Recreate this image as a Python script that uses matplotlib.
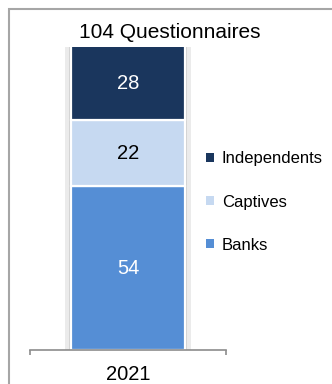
import matplotlib
matplotlib.use('Agg')
import matplotlib.pyplot as plt
from matplotlib.patches import Patch, Rectangle

plt.rcParams['font.family'] = ['Liberation Sans', 'DejaVu Sans']

# --- Data ---
years = ['2021']
segments = ['Banks', 'Captives', 'Independents']
values = [54, 22, 28]
colors = ['#558ed5', '#c6d9f1', '#1a365d']
label_colors = ['white', 'black', 'white']
title = '104 Questionnaires'

fig = plt.figure(figsize=(3.32, 3.84), dpi=100)
W, H = 332, 384

# outer frame
fig.patches.append(Rectangle((9 / W, -0.1), 1.2, (H - 9) / H + 0.1, transform=fig.transFigure,
                             fill=False, edgecolor='#a6a6a6', linewidth=1.5))

ax = fig.add_axes([30 / W, 34 / H, 196 / W, 303 / H])
ymax = 100
ax.set_ylim(0, ymax)
ax.set_xlim(-0.5, 0.5)

# grey backdrop behind the column
ax.bar(0, ymax, width=0.645, bottom=0, color='#ebebeb', zorder=1)
ax.bar(0, ymax, width=0.6, bottom=0, color='#cfcfcf', zorder=1.5)

bottom = 0
for seg, v, c, lc in zip(segments, values, colors, label_colors):
    ax.bar(0, v, width=0.585, bottom=bottom, color=c, edgecolor='white', linewidth=1.6, zorder=2)
    top = min(bottom + v, ymax)
    ax.text(0, (bottom + top) / 2, str(v), ha='center', va='center', color=lc, fontsize=14.5, zorder=3)
    bottom += v

for s in ['top', 'left', 'right']:
    ax.spines[s].set_visible(False)
ax.spines['bottom'].set_color('#8c8c8c')
ax.spines['bottom'].set_linewidth(1.2)
ax.set_yticks([])
ax.set_xticks([0])
ax.set_xticklabels(years, fontsize=14.5)
ax.tick_params(axis='x', which='major', length=0, pad=11)
ax.set_xticks([-0.5, 0.5], minor=True)
ax.tick_params(axis='x', which='minor', length=3.5, width=1.2, color='#8c8c8c')
ax.set_facecolor('none')

fig.text(170 / W, 1 - 32 / H, title, ha='center', va='center', fontsize=15)

handles = [Patch(facecolor=c, edgecolor='none') for c in colors[::-1]]
fig.legend(handles, segments[::-1], loc='center left', bbox_to_anchor=(206 / W, 1 - 202 / H),
           frameon=False, handlelength=0.5, handleheight=0.5,
           handletextpad=0.45, labelspacing=1.68, borderpad=0, borderaxespad=0, fontsize=12)

fig.savefig('out.png', dpi=100)
